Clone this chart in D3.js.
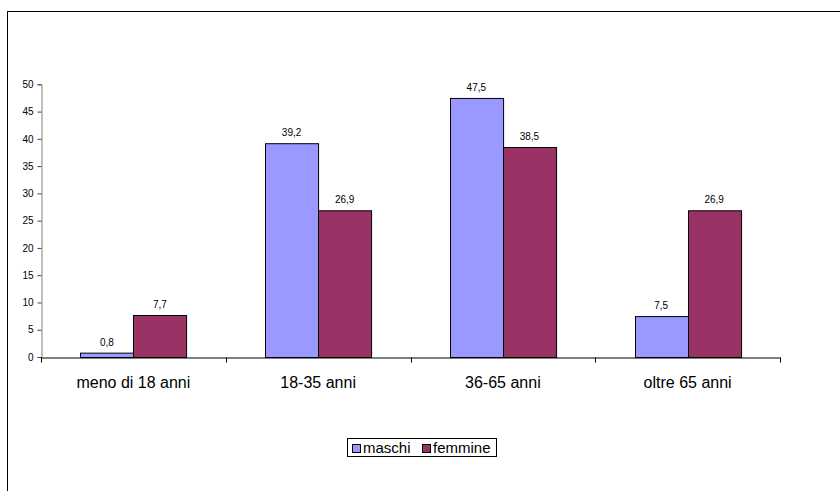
<!DOCTYPE html>
<html><head><meta charset="utf-8">
<script src="https://cdn.jsdelivr.net/npm/d3@7"></script>
<style>body{margin:0;background:#fff}svg{display:block}</style>
</head><body>
<svg id="c" width="840" height="491"></svg>
<script>
const categories = ["meno di 18 anni", "18-35 anni", "36-65 anni", "oltre 65 anni"];
const series = ["maschi", "femmine"];
const maschi = [0.8, 39.2, 47.5, 7.5];
const femmine = [7.7, 26.9, 38.5, 26.9];
const yTicks = [0, 5, 10, 15, 20, 25, 30, 35, 40, 45, 50];
const colors = ["#9999FF", "#993366"];
const values = [maschi, femmine];

(function () {
const svg = d3.select("#c");
const font = "Liberation Sans, Arial, sans-serif";

// outer frame
svg.append("rect").attr("x", 7.5).attr("y", 11.5).attr("width", 840).attr("height", 490)
  .attr("fill", "#fff").attr("stroke", "#000").attr("stroke-width", 1);

const pLeft = 41, pRight = 780, pTop = 84.3, pBottom = 357;
const x = d3.scaleBand().domain(categories).range([pLeft, pRight]).paddingInner(0).paddingOuter(0);
const y = d3.scaleLinear().domain([0, 50]).range([pBottom, pTop]);
const inner = d3.scaleBand().domain(series).range([0, x.bandwidth()]).paddingInner(0).paddingOuter(0.74);

// y axis
const ya = svg.append("g").attr("transform", `translate(${pLeft + 0.5},0)`)
  .call(d3.axisLeft(y).tickValues(yTicks).tickSize(4).tickPadding(4).tickFormat(d3.format("d")));
ya.select(".domain").attr("stroke", "#808080");
ya.selectAll(".tick line").attr("stroke", "#404040");
ya.selectAll("text").attr("font-family", font).attr("font-size", 10).attr("fill", "#000");

// bars
categories.forEach((c, i) => {
  series.forEach((s, j) => {
    const v = values[j][i];
    const bx = x(c) + inner(s);
    svg.append("rect")
      .attr("x", Math.round(bx) + 0.5).attr("y", y(v) + 0.5)
      .attr("width", inner.bandwidth()).attr("height", y(0) - y(v))
      .attr("fill", colors[j]).attr("stroke", "#000").attr("stroke-width", 1);
    svg.append("text").attr("x", bx + inner.bandwidth() / 2).attr("y", y(v) - 7)
      .attr("text-anchor", "middle").attr("font-family", font).attr("font-size", 10)
      .text(String(v).replace(".", ","));
  });
});

// x axis
const xa = svg.append("g").attr("transform", `translate(0,${pBottom + 0.5})`)
  .call(d3.axisBottom(x).tickSize(0).tickPadding(19));
xa.select(".domain").attr("stroke", "#000");
xa.selectAll("text").attr("font-family", font).attr("font-size", 16).attr("fill", "#000");
const bounds = [pLeft, ...categories.map(c => x(c) + x.bandwidth())];
xa.selectAll(".bt").data(bounds).enter().append("line")
  .attr("x1", d => Math.round(d) + 0.5).attr("x2", d => Math.round(d) + 0.5)
  .attr("y1", 0).attr("y2", 5).attr("stroke", "#000");

// legend
const lg = svg.append("g");
lg.append("rect").attr("x", 347.5).attr("y", 438.5).attr("width", 149).attr("height", 18)
  .attr("fill", "#fff").attr("stroke", "#000");
const items = [{ n: "maschi", x: 352 }, { n: "femmine", x: 422 }];
items.forEach((it, j) => {
  lg.append("rect").attr("x", it.x + 0.5).attr("y", 444.5).attr("width", 8).attr("height", 8)
    .attr("fill", colors[j]).attr("stroke", "#000");
  lg.append("text").attr("x", it.x + 11).attr("y", 453).attr("font-family", font)
    .attr("font-size", 15).text(it.n);
});
})();
</script>
</body></html>
